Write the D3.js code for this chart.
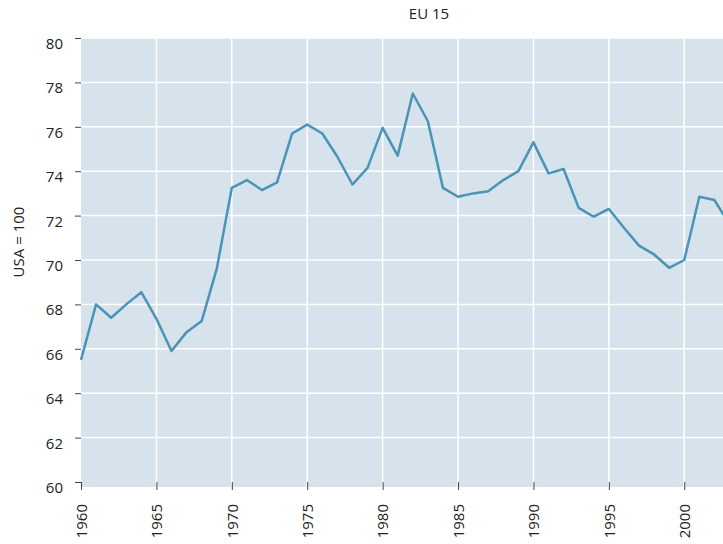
<!DOCTYPE html>
<html>
<head>
<meta charset="utf-8" />
<title>EU 15</title>
<style>
body { margin: 0; background: #fff; }
text { font-family: "Open Sans", "Noto Sans", sans-serif; fill: #222; }
</style>
</head>
<body>
<div id="chart"></div>
<script src="https://d3js.org/d3.v7.min.js"></script>
<script>
(function(d3) {
'use strict';
var years = [1960, 1961, 1962, 1963, 1964, 1965, 1966, 1967, 1968, 1969,
             1970, 1971, 1972, 1973, 1974, 1975, 1976, 1977, 1978, 1979,
             1980, 1981, 1982, 1983, 1984, 1985, 1986, 1987, 1988, 1989,
             1990, 1991, 1992, 1993, 1994, 1995, 1996, 1997, 1998, 1999,
             2000, 2001, 2002, 2003];
var values = [65.5, 68.0, 67.4, 68.0, 68.55, 67.35, 65.9, 66.75, 67.25, 69.6,
              73.25, 73.6, 73.15, 73.5, 75.7, 76.1, 75.7, 74.65, 73.4, 74.15,
              75.95, 74.7, 77.5, 76.25, 73.25, 72.85, 73.0, 73.1, 73.6, 74.0,
              75.3, 73.9, 74.1, 72.35, 71.95, 72.3, 71.45, 70.65, 70.25, 69.65,
              70.0, 72.85, 72.7, 71.6];
var yTicks = [60, 62, 64, 66, 68, 70, 72, 74, 76, 78, 80];
var xTicks = [1960, 1965, 1970, 1975, 1980, 1985, 1990, 1995, 2000];
var title = 'EU 15';
var yLabel = 'USA = 100';

var width = 723, height = 544;
var left = 81, right = 777, top = 38, bottom = 482;

var svg = d3.select('#chart').append('svg')
  .attr('width', width).attr('height', height);

var x = d3.scaleLinear().domain([1960, 2006.15]).range([left, right]);
var y = d3.scaleLinear().domain([60, 80]).range([bottom, top]);

// background
svg.append('rect')
  .attr('x', left).attr('y', top)
  .attr('width', right - left).attr('height', bottom + 5 - top)
  .attr('fill', '#d6e2ec');

// grid
svg.append('g').selectAll('line').data(yTicks.slice(1)).enter().append('line')
  .attr('x1', left).attr('x2', right)
  .attr('y1', function(d) { return y(d); }).attr('y2', function(d) { return y(d); })
  .attr('stroke', '#fff').attr('stroke-width', 1.5);
svg.append('g').selectAll('line').data(xTicks.slice(1)).enter().append('line')
  .attr('x1', function(d) { return x(d); }).attr('x2', function(d) { return x(d); })
  .attr('y1', top).attr('y2', bottom + 5)
  .attr('stroke', '#fff').attr('stroke-width', 1.5);

// y axis
var yAxis = svg.append('g')
  .attr('transform', 'translate(' + left + ',0)')
  .call(d3.axisLeft(y).tickValues(yTicks).tickSize(6).tickPadding(12).tickFormat(d3.format('d')));
yAxis.select('.domain').remove();
yAxis.selectAll('line').attr('stroke', '#444');
yAxis.selectAll('text').style('font-size', '15px').attr('fill', '#1a1a1a').attr('dy', '0.7em');

// x axis
var xAxis = svg.append('g')
  .attr('transform', 'translate(0,' + (bottom + 5) + ')')
  .call(d3.axisBottom(x).tickValues(xTicks).tickSize(4).tickFormat(d3.format('d')));
xAxis.select('.domain').remove();
xAxis.selectAll('.tick line').attr('stroke', '#444').attr('y1', -5).attr('y2', 3);
xAxis.selectAll('text')
  .style('font-size', '15px')
  .attr('fill', '#1a1a1a')
  .attr('text-anchor', 'end')
  .attr('transform', 'rotate(-90)')
  .attr('x', -17).attr('y', 0).attr('dy', '0.35em');

// line
var line = d3.line()
  .x(function(d, i) { return x(years[i]); })
  .y(function(d) { return y(d); });
svg.append('path')
  .datum(values)
  .attr('d', line)
  .attr('fill', 'none')
  .attr('stroke', '#4a94b6')
  .attr('stroke-width', 2.5)
  .attr('stroke-linejoin', 'round');

// title
svg.append('text')
  .attr('x', (left + right) / 2).attr('y', 19)
  .attr('text-anchor', 'middle')
  .style('font-size', '15px')
  .text(title);

// y label
svg.append('text')
  .attr('transform', 'translate(24,242) rotate(-90)')
  .attr('text-anchor', 'middle')
  .style('font-size', '15px')
  .text(yLabel);
})(window.d3);
</script>
</body>
</html>
